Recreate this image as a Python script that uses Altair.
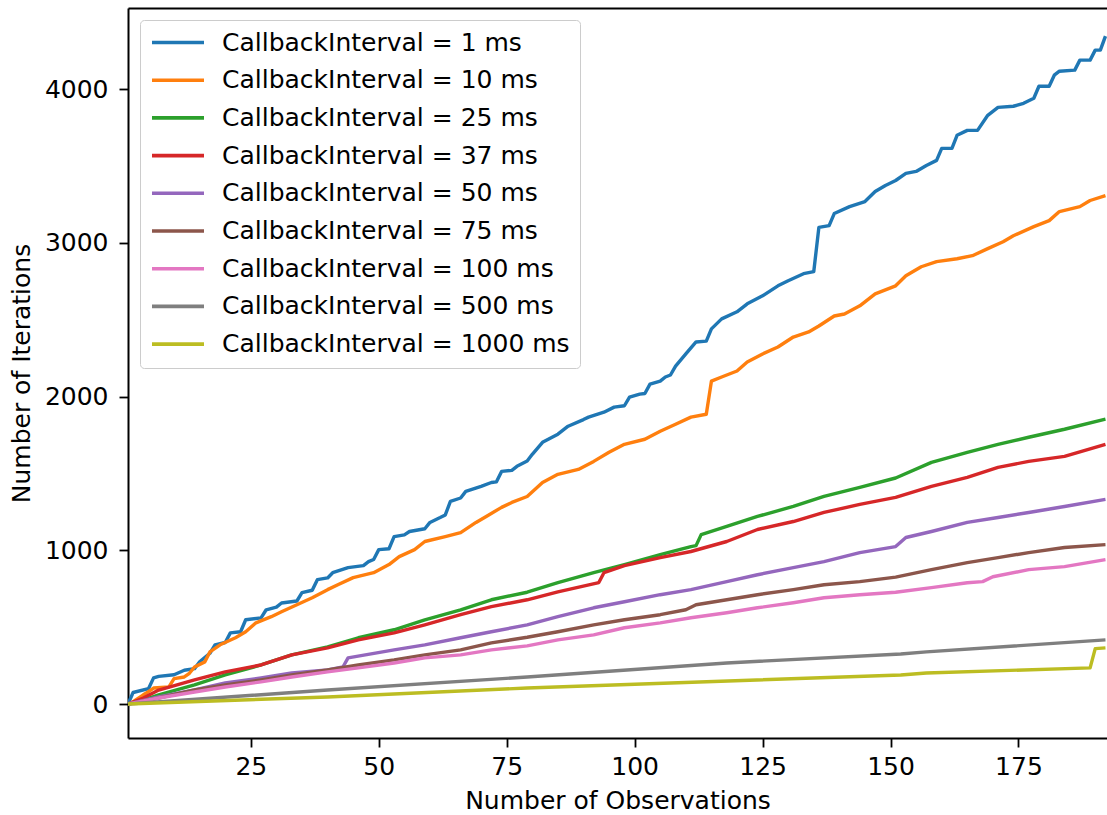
import altair as alt
import pandas as pd

LABELS = [
    "CallbackInterval = 1 ms",
    "CallbackInterval = 10 ms",
    "CallbackInterval = 25 ms",
    "CallbackInterval = 37 ms",
    "CallbackInterval = 50 ms",
    "CallbackInterval = 75 ms",
    "CallbackInterval = 100 ms",
    "CallbackInterval = 500 ms",
    "CallbackInterval = 1000 ms",
]
COLORS = ["#1f77b4", "#ff7f0e", "#2ca02c", "#d62728", "#9467bd",
          "#8c564b", "#e377c2", "#7f7f7f", "#bcbd22"]

X_TICKS = [25, 50, 75, 100, 125, 150, 175]
Y_TICKS = [0, 1000, 2000, 3000, 4000]

# 1 ms
X_1 = [1, 2, 5, 6, 7, 10, 12, 14, 15, 17, 18, 20, 21, 23, 24, 27, 28, 30, 31, 34,
       35, 37, 38, 40, 41, 44, 47, 48, 49, 50, 52, 53, 55, 56, 59, 60, 62, 63, 64, 66,
       67, 70, 72, 73, 74, 76, 77, 79, 80, 82, 85, 87, 90, 91, 94, 96, 98, 99, 101, 102,
       103, 105, 106, 107, 108, 110, 112, 114, 115, 117, 120, 122, 125, 128, 130, 133, 135, 136, 138, 139,
       142, 145, 147, 149, 151, 153, 155, 157, 159, 160, 162, 163, 165, 167, 169, 171, 174, 176, 178, 179,
       181, 182, 183, 186, 187, 189, 190, 191, 192]
Y_1 = [0, 75, 100, 170, 180, 190, 220, 230, 275, 330, 385, 400, 463, 470, 548, 560, 613, 630, 657, 670,
       724, 740, 809, 820, 854, 887, 900, 926, 940, 1004, 1010, 1089, 1100, 1122, 1140, 1181, 1213, 1230, 1318, 1340,
       1383, 1416, 1441, 1445, 1513, 1520, 1546, 1580, 1624, 1702, 1755, 1807, 1850, 1866, 1898, 1931, 1940, 1996, 2016, 2020,
       2081, 2100, 2127, 2140, 2198, 2277, 2355, 2360, 2440, 2505, 2551, 2603, 2655, 2720, 2753, 2799, 2812, 3100, 3112, 3190,
       3235, 3268, 3333, 3373, 3405, 3451, 3464, 3503, 3536, 3614, 3614, 3699, 3731, 3731, 3829, 3881, 3888, 3907, 3940, 4018,
       4018, 4090, 4116, 4123, 4188, 4188, 4253, 4253, 4344]

# 10 ms
X_10 = [1, 2, 4, 5, 6, 9, 10, 12, 13, 14, 16, 17, 19, 22, 24, 26, 29, 31, 34, 37,
        40, 42, 45, 49, 52, 54, 57, 59, 63, 66, 69, 71, 74, 76, 79, 82, 85, 89, 92, 95,
        98, 102, 105, 108, 111, 114, 115, 117, 120, 122, 125, 128, 131, 134, 136, 139, 141, 144, 147, 151,
        153, 156, 159, 163, 166, 169, 172, 174, 178, 181, 183, 187, 189, 192]
Y_10 = [0, 15, 60, 80, 104, 111, 165, 176, 200, 241, 274, 339, 385, 431, 470, 528, 568, 600, 646, 691,
        744, 776, 822, 854, 907, 959, 1004, 1057, 1089, 1115, 1181, 1220, 1279, 1311, 1350, 1441, 1494, 1526, 1578, 1637,
        1689, 1722, 1774, 1820, 1866, 1885, 2100, 2127, 2166, 2224, 2277, 2322, 2387, 2420, 2459, 2524, 2537, 2590, 2668, 2720,
        2785, 2844, 2877, 2896, 2916, 2962, 3007, 3046, 3105, 3144, 3203, 3235, 3275, 3307]

# 25 ms
X_25 = [1, 4, 7, 14, 20, 27, 33, 40, 46, 53, 59, 66, 72, 79, 85, 92, 98, 105, 111, 112,
        113, 118, 124, 131, 137, 144, 151, 158, 165, 171, 177, 184, 192]
Y_25 = [0, 25, 59, 124, 189, 254, 320, 372, 431, 483, 548, 613, 678, 727, 789, 854, 907, 972, 1024, 1030,
        1102, 1155, 1220, 1285, 1350, 1409, 1470, 1572, 1637, 1689, 1735, 1787, 1853]

# 37 ms
X_37 = [1, 4, 7, 14, 20, 27, 33, 40, 46, 53, 59, 66, 72, 79, 85, 93, 94, 98, 105, 111,
        118, 124, 131, 137, 144, 151, 158, 165, 171, 177, 184, 192]
Y_37 = [0, 39, 91, 157, 209, 254, 320, 365, 417, 463, 515, 581, 633, 678, 730, 790, 854, 900, 952, 992,
        1057, 1135, 1187, 1246, 1298, 1344, 1416, 1474, 1539, 1578, 1611, 1689]

# 50 ms
X_50 = [1, 7, 14, 20, 27, 33, 40, 43, 44, 53, 59, 66, 72, 79, 85, 92, 98, 105, 111, 118,
        124, 131, 137, 144, 151, 153, 158, 165, 171, 177, 184, 192]
Y_50 = [0, 46, 91, 137, 170, 202, 222, 241, 300, 352, 385, 431, 470, 515, 568, 626, 665, 711, 744, 796,
        841, 887, 926, 985, 1024, 1083, 1122, 1181, 1213, 1246, 1285, 1331]

# 75 ms
X_75 = [1, 7, 14, 20, 27, 33, 40, 46, 53, 59, 66, 72, 79, 85, 92, 98, 105, 110, 112, 118,
        124, 131, 137, 144, 151, 158, 165, 171, 177, 184, 192]
Y_75 = [0, 39, 91, 124, 157, 189, 222, 254, 287, 320, 352, 398, 434, 470, 515, 548, 581, 613, 646, 678,
        711, 744, 776, 796, 825, 874, 920, 952, 985, 1018, 1037]

# 100 ms
X_100 = [1, 7, 14, 20, 27, 33, 40, 46, 53, 59, 66, 72, 79, 85, 92, 98, 105, 111, 118, 124,
         131, 137, 144, 151, 158, 165, 168, 170, 177, 184, 192]
Y_100 = [0, 39, 78, 111, 144, 176, 209, 235, 267, 300, 320, 352, 378, 417, 450, 496, 528, 561, 594, 626,
         659, 691, 711, 727, 757, 789, 796, 828, 874, 894, 939]

# 500 ms
X_500 = [1, 40, 79, 118, 152, 157, 192]
Y_500 = [0, 91, 176, 267, 325, 339, 417]

# 1000 ms
X_1000 = [1, 40, 79, 152, 157, 189, 190, 192]
Y_1000 = [0, 46, 104, 189, 202, 235, 360, 365]

XS = [X_1, X_10, X_25, X_37, X_50, X_75, X_100, X_500, X_1000]
YS = [Y_1, Y_10, Y_25, Y_37, Y_50, Y_75, Y_100, Y_500, Y_1000]

rows = []
for label, xs, ys in zip(LABELS, XS, YS):
    for xv, yv in zip(xs, ys):
        rows.append({"series": label, "obs": xv, "iters": yv})
df = pd.DataFrame(rows)

FONT = "DejaVu Sans"
FS = 25
X_DOMAIN = [1, 192.3]
Y_DOMAIN = [-221, 4527]

x_scale = alt.Scale(domain=X_DOMAIN, nice=False, zero=False)
y_scale = alt.Scale(domain=Y_DOMAIN, nice=False, zero=False)

lines = alt.Chart(df).mark_line(strokeWidth=3.4, strokeJoin="round", clip=True).encode(
    x=alt.X("obs:Q", scale=x_scale,
            axis=alt.Axis(title="Number of Observations", values=X_TICKS, orient="bottom",
                          format="d", labelPadding=7, titlePadding=9)),
    y=alt.Y("iters:Q", scale=y_scale,
            axis=alt.Axis(title="Number of Iterations", values=Y_TICKS, format="d",
                          labelPadding=11, titlePadding=10)),
    color=alt.Color("series:N", scale=alt.Scale(domain=LABELS, range=COLORS),
                    legend=alt.Legend(title=None, orient="top-left", offset=12, padding=10,
                                      fillColor="white", strokeColor="#cccccc", cornerRadius=4,
                                      symbolType="stroke", symbolSize=2704, symbolStrokeWidth=3.6,
                                      labelFontSize=FS, labelFont=FONT, labelColor="black",
                                      labelOffset=16, labelLimit=0, rowPadding=11.7,
                                      clipHeight=25)),
)

top_frame = alt.Chart(df).mark_line(opacity=0).encode(
    x=alt.X("obs:Q", scale=x_scale,
            axis=alt.Axis(title=None, orient="top", labels=False, ticks=False, domain=True)),
    y=alt.Y("iters:Q", scale=y_scale),
)

chart = alt.layer(lines, top_frame).properties(
    width=979, height=730,
    autosize=alt.AutoSizeParams(type="none"),
    padding={"left": 128, "top": 8, "right": 0, "bottom": 76},
).configure_view(stroke=None).configure_axis(
    grid=False,
    domainColor="black", domainWidth=2,
    tickColor="black", tickWidth=1.8, tickSize=9,
    labelFont=FONT, labelFontSize=FS, labelColor="black",
    titleFont=FONT, titleFontSize=FS, titleFontWeight="normal", titleColor="black",
)

chart.save("out.html", embed_options={"renderer": "svg", "actions": False})
